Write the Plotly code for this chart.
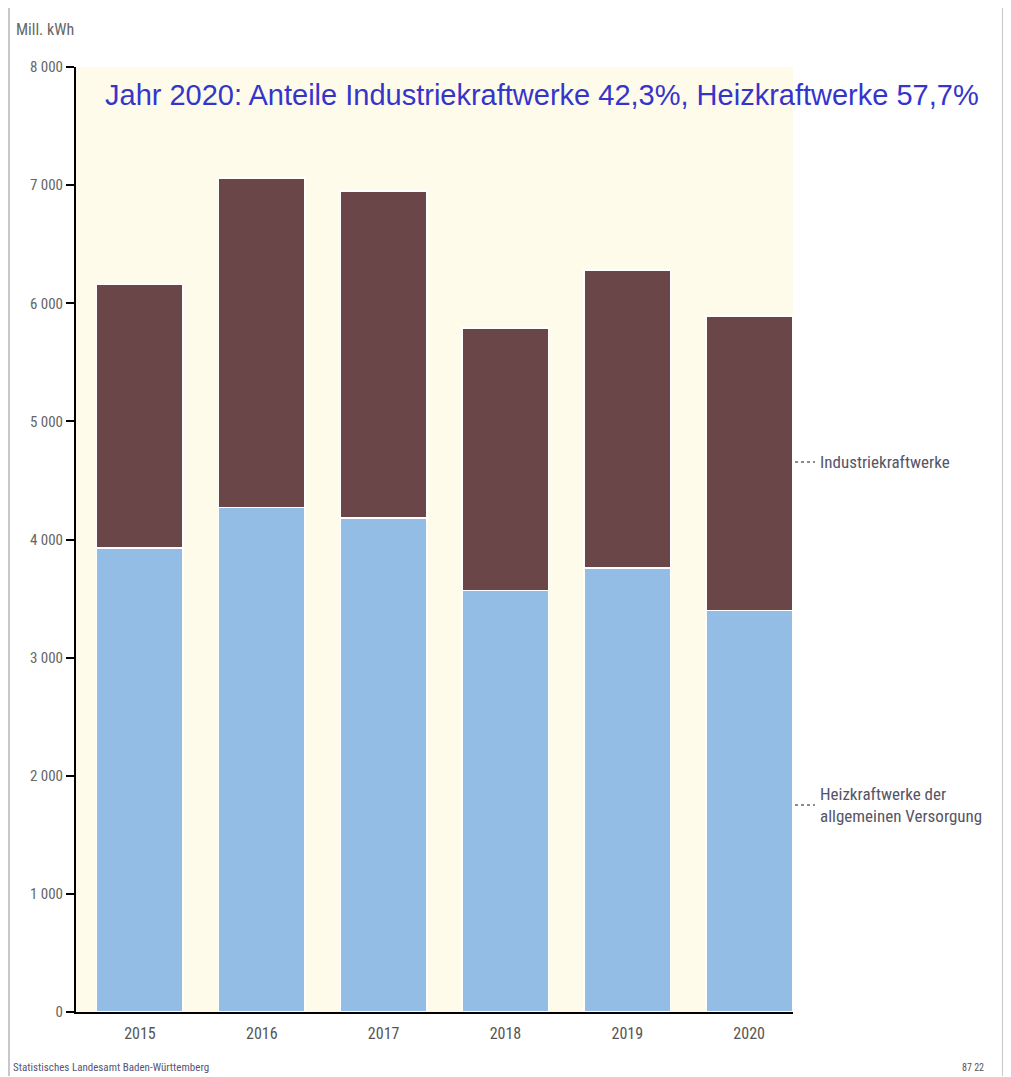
import plotly.graph_objects as go

years = ["2015", "2016", "2017", "2018", "2019", "2020"]
heizkraftwerke = [3930, 4270, 4180, 3570, 3760, 3400]
totals = [6160, 7060, 6950, 5790, 6280, 5890]
industrie = [t - h for t, h in zip(totals, heizkraftwerke)]
ytick_vals = [0, 1000, 2000, 3000, 4000, 5000, 6000, 7000, 8000]
ytick_text = ["0", "1 000", "2 000", "3 000", "4 000", "5 000", "6 000", "7 000", "8 000"]

BLUE = "#94bde6"
BROWN = "#6b4648"
BG = "#fffbea"
NARROW = "Liberation Sans Narrow, Roboto Condensed, Arial Narrow, sans-serif"

# page offset of the figure div (default body margin)
OFF = 8
PL, PR, PT, PB = 76, 793, 67, 1012  # plot area in page pixels
PW, PH = PR - PL, PB - PT


def px(x):
    return (x - PL) / PW


def py(y):
    return (PB - y) / PH


fig = go.Figure()
fig.add_trace(go.Bar(x=years, y=heizkraftwerke, marker=dict(color=BLUE, line=dict(color="white", width=1.5)),
                     width=0.71, name="Heizkraftwerke der allgemeinen Versorgung"))
fig.add_trace(go.Bar(x=years, y=industrie, marker=dict(color=BROWN, line=dict(color="white", width=1.5)),
                     width=0.71, name="Industriekraftwerke"))

W, H = 1011 - OFF, 1077 - OFF
fig.update_layout(
    barmode="stack",
    width=W, height=H,
    margin=dict(l=PL - OFF, r=W - (PR - OFF), t=PT - OFF, b=H - (PB - OFF), autoexpand=False),
    paper_bgcolor="white",
    plot_bgcolor=BG,
    showlegend=False,
    xaxis=dict(range=[-0.525, 5.36], showgrid=False, showline=True, linecolor="black", linewidth=2,
               ticks="", tickfont=dict(family=NARROW, size=16, color="#555555"), ticklabelstandoff=6),
    yaxis=dict(range=[0, 8000], tickvals=ytick_vals, ticktext=ytick_text, showgrid=False, zeroline=False,
               showline=True, linecolor="black", linewidth=2, ticks="outside", ticklen=8, tickwidth=2,
               tickcolor="black", tickfont=dict(family=NARROW, size=15, color="#666666")),
)

annotations = [
    dict(text="Jahr 2020: Anteile Industriekraftwerke 42,3%, Heizkraftwerke 57,7%", xref="paper", yref="paper",
         x=px(103), y=py(95), xanchor="left", yanchor="middle", showarrow=False,
         font=dict(family="Arial, Liberation Sans, sans-serif", size=29, color="#3535cc")),
    dict(text="Mill. kWh", xref="paper", yref="paper", x=px(14), y=py(30),
         xanchor="left", yanchor="middle", showarrow=False, font=dict(family=NARROW, size=16, color="#666666")),
    dict(text="Industriekraftwerke", xref="paper", yref="paper", x=px(818), y=py(462),
         xanchor="left", yanchor="middle", showarrow=False, font=dict(family=NARROW, size=17, color="#555566")),
    dict(text="Heizkraftwerke der<br>allgemeinen Versorgung", xref="paper", yref="paper", x=px(818),
         y=py(805), xanchor="left", yanchor="middle", align="left", showarrow=False,
         font=dict(family=NARROW, size=17, color="#555566")),
    dict(text="Statistisches Landesamt Baden-Württemberg", xref="paper", yref="paper", x=px(11),
         y=py(1067), xanchor="left", yanchor="middle", showarrow=False,
         font=dict(family=NARROW, size=11, color="#555577")),
    dict(text="87 22", xref="paper", yref="paper", x=px(986),
         y=py(1067), xanchor="right", yanchor="middle", showarrow=False,
         font=dict(family=NARROW, size=10, color="#555555")),
]
fig.update_layout(annotations=annotations)

shapes = [
    dict(type="line", xref="paper", yref="paper", x0=px(795), x1=px(815),
         y0=py(462), y1=py(462), line=dict(color="#666666", width=1.5, dash="dot")),
    dict(type="line", xref="paper", yref="paper", x0=px(795), x1=px(815),
         y0=py(805), y1=py(805), line=dict(color="#666666", width=1.5, dash="dot")),
    dict(type="line", xref="paper", yref="paper", x0=px(9), x1=px(9),
         y0=py(1076), y1=py(OFF), line=dict(color="#c8c8c8", width=2)),
    dict(type="line", xref="paper", yref="paper", x0=px(1003), x1=px(1003),
         y0=py(1076), y1=py(OFF), line=dict(color="#c8c8c8", width=2)),
]
fig.update_layout(shapes=shapes)

fig.write_html("out.html")
